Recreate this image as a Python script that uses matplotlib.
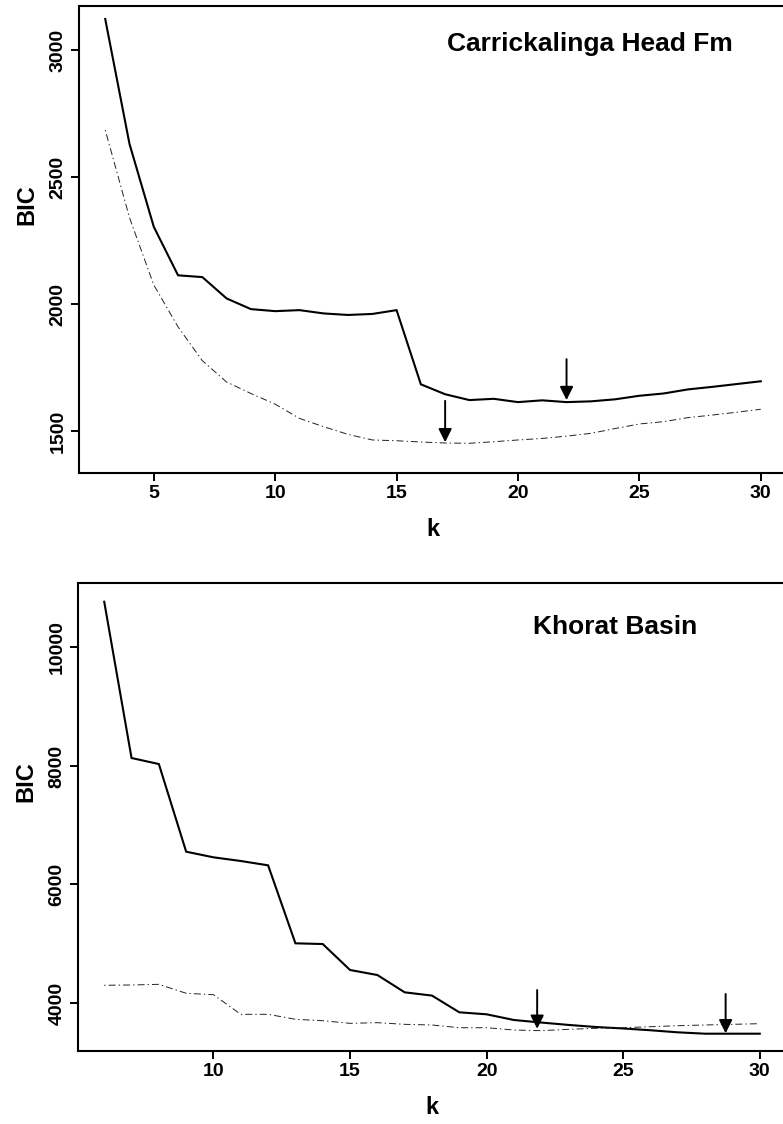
import numpy as np
import matplotlib
matplotlib.use("Agg")
import matplotlib.pyplot as plt

plt.rcParams['font.family'] = ['Liberation Sans', 'DejaVu Sans']
plt.rcParams['font.weight'] = 'bold'
plt.rcParams['lines.scale_dashes'] = False

# Carrickalinga Head Fm
k_top = list(range(3, 31))
bic_top_solid = [3122, 2630, 2304, 2113, 2106, 2022, 1980, 1972, 1976, 1963,
                 1957, 1961, 1976, 1684, 1645, 1622, 1627, 1614, 1621, 1614,
                 1617, 1625, 1639, 1648, 1664, 1674, 1685, 1696]
bic_top_dash = [2685, 2340, 2075, 1910, 1777, 1693, 1648, 1606, 1550, 1517,
                1487, 1465, 1462, 1457, 1453, 1452, 1458, 1465, 1471, 1480,
                1491, 1510, 1528, 1537, 1553, 1563, 1574, 1586]
arrows_top_k = [17, 22]
arrows_top_from = [1619, 1783]
arrows_top_to = [1456, 1622]

# Khorat Basin
k_bot = list(range(6, 31))
bic_bot_solid = [10771, 8134, 8032, 6553, 6458, 6396, 6323, 5007, 4995, 4557,
                 4472, 4180, 4125, 3843, 3809, 3713, 3670, 3630, 3595, 3570,
                 3540, 3505, 3482, 3482, 3482]
bic_bot_dash = [4299, 4304, 4315, 4164, 4140, 3809, 3809, 3725, 3701, 3657,
                3668, 3640, 3629, 3583, 3583, 3544, 3533, 3556, 3573, 3583,
                3600, 3617, 3629, 3640, 3651]
arrows_bot_k = [21.85, 28.75]
arrows_bot_from = [4219, 4152]
arrows_bot_to = [3565, 3489]

W, H = 783, 1124
fig = plt.figure(figsize=(W / 100, H / 100), dpi=100)


def make_panel(rect, k, solid, dash, ak, afrom, ato, xlim, ylim, yticks, xticks, title, title_xy):
    left, top, right, bottom = rect
    ax = fig.add_axes([left / W, 1 - bottom / H, (right - left) / W, (bottom - top) / H])
    ax.plot(k, solid, color='black', lw=1.5, solid_joinstyle='miter')
    ax.plot(k, dash, color='#222222', lw=0.7, dashes=(1, 2.2, 5, 2.2))
    for xk, y0, y1 in zip(ak, afrom, ato):
        ax.annotate('', xy=(xk, y1), xytext=(xk, y0),
                    arrowprops=dict(arrowstyle='-|>', color='black', lw=1.4,
                                    mutation_scale=20, shrinkA=0, shrinkB=0))
    ax.set_xlim(*xlim)
    ax.set_ylim(*ylim)
    ax.set_xticks(xticks)
    ax.set_yticks(yticks)
    ax.spines['right'].set_visible(False)
    for s in ['left', 'top', 'bottom']:
        ax.spines[s].set_linewidth(1.5)
    ax.tick_params(direction='out', length=6, width=1.4, labelsize=14, pad=3)
    for lab in ax.get_yticklabels():
        lab.set_rotation(90)
        lab.set_va('center')
        lab.set_fontweight('bold')
    for lab in ax.get_xticklabels():
        lab.set_fontweight('bold')
    ax.set_xlabel('k', fontsize=17, fontweight='bold')
    ax.set_ylabel('BIC', fontsize=17, fontweight='bold')
    ax.xaxis.set_label_coords(0.5, -0.096)
    ax.yaxis.set_label_coords(-0.058, 0.575)
    fig.text(title_xy[0] / W, 1 - title_xy[1] / H, title, fontsize=19,
             fontweight='bold', ha='center', va='center')
    return ax


make_panel((79, 6, 787, 473), k_top, bic_top_solid, bic_top_dash,
           arrows_top_k, arrows_top_from, arrows_top_to,
           (1.92, 31.08), (1335, 3173), [1500, 2000, 2500, 3000],
           [5, 10, 15, 20, 25, 30], 'Carrickalinga Head Fm', (590, 44))

make_panel((78, 583, 786, 1051), k_bot, bic_bot_solid, bic_bot_dash,
           arrows_bot_k, arrows_bot_from, arrows_bot_to,
           (5.04, 30.96), (3190, 11087), [4000, 6000, 8000, 10000],
           [10, 15, 20, 25, 30], 'Khorat Basin', (615, 627))

fig.savefig('out.png', dpi=100)
